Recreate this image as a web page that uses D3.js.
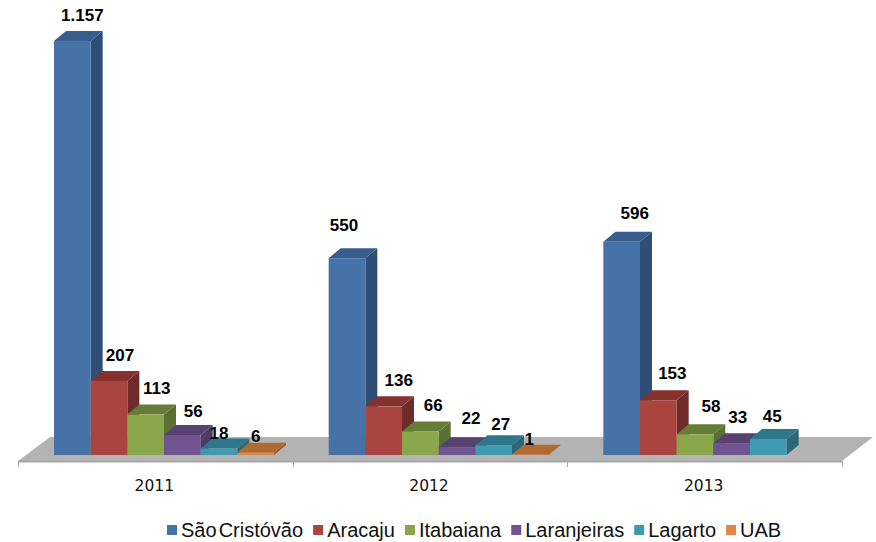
<!DOCTYPE html>
<html>
<head>
<meta charset="utf-8">
<script src="https://cdn.jsdelivr.net/npm/d3@7"></script>
<style>
html, body { margin: 0; padding: 0; background: #fff; }
svg { display: block; }
</style>
</head>
<body>
<script>
var years = ["2011", "2012", "2013"];
var campi = ["São Cristóvão", "Aracaju", "Itabaiana", "Laranjeiras", "Lagarto", "UAB"];
var saoCristovao = [1157, 550, 596];
var aracaju = [207, 136, 153];
var itabaiana = [113, 66, 58];
var laranjeiras = [56, 22, 33];
var lagarto = [18, 27, 45];
var uab = [6, 1, null];
var seriesValues = [saoCristovao, aracaju, itabaiana, laranjeiras, lagarto, uab];

// front, top, side colour for each series
var faceColors = [
    ["#4672a8", "#385d8a", "#2f4e75"],
    ["#a9443f", "#85322f", "#6e2b29"],
    ["#8aa64b", "#667d39", "#5a6f32"],
    ["#70548f", "#57416f", "#4e3a64"],
    ["#3f99b1", "#30768a", "#2a6779"],
    ["#dc8a45", "#b06a30", "#96592a"]
];

var width = 876, height = 542;
var depthX = 12, depthY = 10;   // 3d offset of the bars
var baseY = 455;

var svg = d3.select("body").append("svg")
    .attr("width", width)
    .attr("height", height)
    .style("font-family", "'Liberation Sans', Arial, sans-serif");

var x = d3.scaleBand().domain(years).range([18, 842]);
var xInner = d3.scaleBand().domain(campi).range([36, 256]);
var y = d3.scaleLinear().domain([0, 1157]).range([baseY, 41]);

// floor
svg.append("path")
    .attr("d", "M18,461 L50,437 L873,437 L842,461 Z")
    .attr("fill", "#b3b3b3");

// x axis, ticks between the groups
svg.append("path")
    .attr("d", "M18,461.5 H842")
    .attr("stroke", "#a6a6a6")
    .attr("stroke-width", 2)
    .attr("fill", "none");

svg.append("g").selectAll("line")
    .data([18, 293, 567, 842])
    .enter()
    .append("line")
    .attr("x1", function(d){ return d + 0.5; })
    .attr("x2", function(d){ return d + 0.5; })
    .attr("y1", 461)
    .attr("y2", 467)
    .attr("stroke", "#a6a6a6");

svg.append("g").selectAll("text")
    .data(years)
    .enter()
    .append("text")
    .attr("x", function(d){ return x(d) + x.bandwidth() / 2 - 1; })
    .attr("y", 491)
    .attr("text-anchor", "middle")
    .style("font-family", "'DejaVu Sans', sans-serif")
    .style("font-size", "15.5px")
    .attr("fill", "#111")
    .text(function(d){ return d; });

// flatten to one record per bar, left to right so the next bar covers the side of the last
var bars = [];
years.forEach(function(year, i){
    campi.forEach(function(name, s){
        var v = seriesValues[s][i];
        if (v !== null) bars.push({year: year, name: name, s: s, i: i, value: v});
    });
});

var barG = svg.append("g").selectAll("g")
    .data(bars)
    .enter()
    .append("g")
    .attr("transform", function(d){ return "translate(" + (x(d.year) + xInner(d.name)) + "," + y(d.value) + ")"; });

var bw = xInner.bandwidth();

barG.append("path")
    .attr("d", function(d){
        var h = y(0) - y(d.value);
        return "M" + bw + ",0 l" + depthX + "," + (-depthY) + " v" + h + " l" + (-depthX) + "," + depthY + " Z";
    })
    .attr("fill", function(d){ return faceColors[d.s][2]; });

barG.append("path")
    .attr("d", "M0,0 l" + depthX + "," + (-depthY) + " h" + bw + " l" + (-depthX) + "," + depthY + " Z")
    .attr("fill", function(d){ return faceColors[d.s][1]; });

barG.append("rect")
    .attr("width", bw)
    .attr("height", function(d){ return y(0) - y(d.value); })
    .attr("fill", function(d){ return faceColors[d.s][0]; });

// value labels were hand placed in the original, so each gets a nudge from its bar centre
var labelNudge = {
    "2011": [[10, -16], [11, -15], [11, -16], [11, -13], [0, -5], [0, -6]],
    "2012": [[-3, -23], [15, -16], [13, -16], [14, -19], [7, -11], [-1, -5]],
    "2013": [[13, -18], [14, -17], [16, -18], [6, -16], [4, -12]]
};

var fmt = function(v){ return v >= 1000 ? d3.format(",")(v).replace(",", ".") : String(v); };

svg.append("g").selectAll("text")
    .data(bars)
    .enter()
    .append("text")
    .attr("x", function(d){ return x(d.year) + xInner(d.name) + bw / 2 + labelNudge[d.year][d.s][0]; })
    .attr("y", function(d){ return y(d.value) - depthY + labelNudge[d.year][d.s][1]; })
    .attr("text-anchor", "middle")
    .attr("dominant-baseline", "central")
    .style("font-size", "17px")
    .style("font-weight", "bold")
    .attr("fill", "#000")
    .text(function(d){ return fmt(d.value); });

// legend
var legend = svg.append("g");
var legendX = 167;
campi.forEach(function(name, s){
    legend.append("rect")
        .attr("x", legendX)
        .attr("y", 525)
        .attr("width", 10)
        .attr("height", 10)
        .attr("fill", faceColors[s][0]);
    var t = legend.append("text")
        .attr("x", legendX + 14)
        .attr("y", 537)
        .style("font-size", "20px")
        .style("word-spacing", "-3.5px")
        .attr("fill", "#111")
        .text(name);
    legendX += 14 + t.node().getComputedTextLength() + 10;
});
</script>
</body>
</html>
